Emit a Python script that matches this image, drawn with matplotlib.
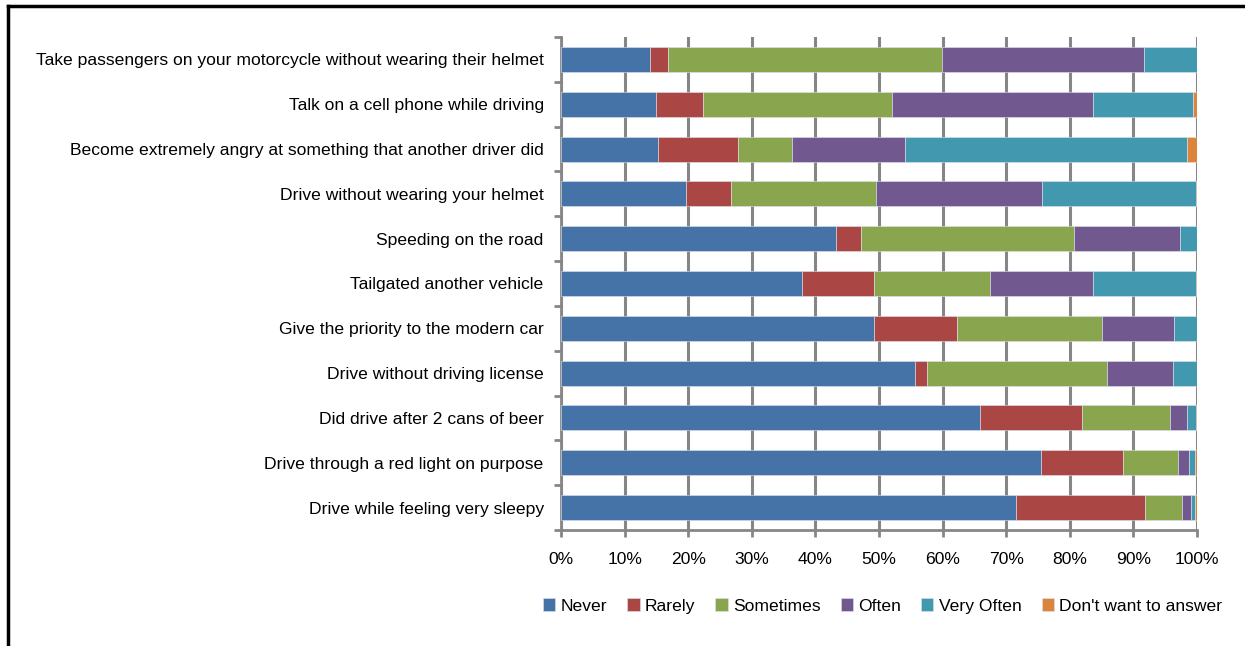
import numpy as np
import matplotlib.pyplot as plt
from matplotlib.lines import Line2D

# Datos (de arriba hacia abajo)
categories = [
    "Take passengers on your motorcycle without wearing their helmet",
    "Talk on a cell phone while driving",
    "Become extremely angry at something that another driver did",
    "Drive without wearing your helmet",
    "Speeding on the road",
    "Tailgated another vehicle",
    "Give the priority to the modern car",
    "Drive without driving license",
    "Did drive after 2 cans of beer",
    "Drive through a red light on purpose",
    "Drive while feeling very sleepy",
]
series_names = ["Never", "Rarely", "Sometimes", "Often", "Very Often", "Don't want to answer"]
never      = [14.0, 14.9, 15.3, 19.6, 43.3, 37.9, 49.2, 55.7, 65.9, 75.5, 71.6]
rarely     = [2.9, 7.5, 12.6, 7.1, 3.8, 11.3, 13.1, 1.9, 16.1, 12.8, 20.3]
sometimes  = [43.0, 29.6, 8.5, 22.8, 33.6, 18.3, 22.7, 28.2, 13.8, 8.7, 5.8]
often      = [31.7, 31.6, 17.7, 26.1, 16.6, 16.1, 11.4, 10.4, 2.7, 1.8, 1.3]
very_often = [8.4, 15.8, 44.3, 24.2, 2.7, 16.2, 3.6, 3.8, 1.4, 0.9, 0.7]
no_answer  = [0.0, 0.6, 1.6, 0.2, 0.0, 0.2, 0.0, 0.0, 0.1, 0.3, 0.3]
colors = ["#4572A7", "#AA4643", "#89A54E", "#71588F", "#4198AF", "#DB843D"]

plt.rcParams['font.family'] = ['Liberation Sans', 'DejaVu Sans']
fs = 12.6

fig = plt.figure(figsize=(12.45, 6.46), dpi=100)
ax = fig.add_axes([0.4506, 0.1796, 0.5108, 0.7631])

data = np.array([never, rarely, sometimes, often, very_often, no_answer])
data = data / data.sum(axis=0) * 100  # normalizar a 100%
y = np.arange(len(categories))[::-1]
left = np.zeros(len(categories))
for vals, name, c in zip(data, series_names, colors):
    ax.barh(y, vals, left=left, height=0.56, color=c, label=name,
            edgecolor='#dce3ee', linewidth=0.4, zorder=3)
    left += vals

ax.set_xlim(0, 100)
ax.set_ylim(-0.5, len(categories) - 0.5)
ax.set_xticks(np.arange(0, 101, 10))
ax.set_xticklabels([f"{v}%" for v in range(0, 101, 10)], fontsize=fs)
ax.set_yticks(y)
ax.set_yticklabels(categories, fontsize=fs)
ax.set_yticks(np.arange(-0.5, len(categories), 1), minor=True)
ax.tick_params(axis='y', which='major', length=0, pad=12.5)
ax.tick_params(axis='y', which='minor', length=5, width=2, color='#868686')
ax.tick_params(axis='x', length=5, width=2, color='#868686', pad=11)
ax.grid(axis='x', color='#868686', linewidth=2.2, zorder=1)
for s in ['top', 'right']:
    ax.spines[s].set_visible(False)
for s in ['left', 'bottom']:
    ax.spines[s].set_color('#868686')
    ax.spines[s].set_linewidth(2)

fig.legend(loc='center', bbox_to_anchor=(0.709, 0.062), ncol=6, frameon=False,
           fontsize=fs, handlelength=0.7, handleheight=0.7, handletextpad=0.3,
           columnspacing=1.15)

# Borde del gráfico
fig.add_artist(Line2D([8 / 1245, 8 / 1245], [0, 1 - 6 / 646], color='black', linewidth=2.5))
fig.add_artist(Line2D([8 / 1245, 1], [1 - 6 / 646, 1 - 6 / 646], color='black', linewidth=2.5))

fig.savefig("out.png", dpi=100)
